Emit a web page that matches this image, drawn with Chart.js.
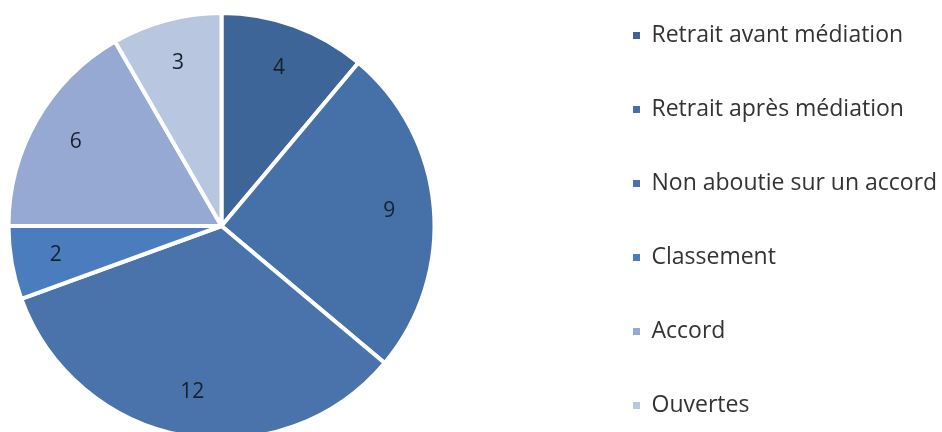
<!DOCTYPE html>
<html>
<head>
<meta charset="utf-8">
<script src="https://cdn.jsdelivr.net/npm/chart.js@4/dist/chart.umd.min.js"></script>
<style>
  html, body { margin: 0; padding: 0; background: #ffffff; }
  body { width: 942px; height: 432px; overflow: hidden; position: relative; }
  #wrap { position: absolute; left: -139px; top: -27px; }
  canvas { display: block; }
</style>
</head>
<body>
<div id="wrap"><canvas id="c"></canvas></div>
<script>
// ---- data ----
const categories = [
  "Retrait avant médiation",
  "Retrait après médiation",
  "Non aboutie sur un accord",
  "Classement",
  "Accord",
  "Ouvertes"
];
const values = [4, 9, 12, 2, 6, 3];
const sliceColors = ["#3e6597", "#4670a8", "#4973aa", "#4b7cbe", "#95a9d2", "#b9c6e0"];

// ---- legend geometry (so the legend column starts where the reference has it) ----
const legendFontSize = 23;
const legendFont = "'Open Sans'";
const legendPad = 51;
const legendBox = 7;
const pieAreaWidth = 721;
const canvasHeight = 506;

const mctx = document.createElement("canvas").getContext("2d");
mctx.font = legendFontSize + "px " + legendFont;
const maxText = Math.max(...categories.map(t => mctx.measureText(t).width));
const legendWidth = legendPad + legendBox + legendFontSize / 2 + maxText + 10;
const canvasWidth = pieAreaWidth + Math.ceil(legendWidth);
const padRight = Math.ceil(legendWidth) - legendWidth;

const cv = document.getElementById("c");
cv.width = canvasWidth;
cv.height = canvasHeight;
cv.style.width = canvasWidth + "px";
cv.style.height = canvasHeight + "px";

// ---- value labels plugin ----
const valueLabels = {
  id: "valueLabels",
  afterDatasetsDraw(chart) {
    const ctx = chart.ctx;
    const meta = chart.getDatasetMeta(0);
    ctx.save();
    ctx.font = "21px 'Open Sans'";
    ctx.fillStyle = "#18202e";
    ctx.textAlign = "center";
    ctx.textBaseline = "middle";
    meta.data.forEach((arc, i) => {
      const p = arc.getProps(["x", "y", "startAngle", "endAngle", "outerRadius"], true);
      const mid = (p.startAngle + p.endAngle) / 2;
      const r = p.outerRadius * 0.79;
      ctx.fillText(String(chart.data.datasets[0].data[i]), p.x + Math.cos(mid) * r, p.y + Math.sin(mid) * r);
    });
    ctx.restore();
  }
};

new Chart(cv, {
  type: "pie",
  data: {
    labels: categories,
    datasets: [{
      data: values,
      backgroundColor: sliceColors,
      borderColor: "#ffffff",
      borderWidth: 4
    }]
  },
  options: {
    responsive: false,
    animation: false,
    radius: 213,
    layout: { padding: { left: 0, top: 0, bottom: 0, right: padRight } },
    plugins: {
      tooltip: { enabled: false },
      legend: {
        position: "right",
        align: "start",
        labels: {
          boxWidth: legendBox,
          boxHeight: legendBox,
          padding: legendPad,
          color: "#333333",
          font: { family: legendFont, size: legendFontSize },
          generateLabels(chart) {
            const items = Chart.overrides.pie.plugins.legend.labels.generateLabels(chart);
            return items.map(it => Object.assign(it, { lineWidth: 0, strokeStyle: "rgba(0,0,0,0)" }));
          }
        }
      }
    }
  },
  plugins: [valueLabels]
});
</script>
</body>
</html>
